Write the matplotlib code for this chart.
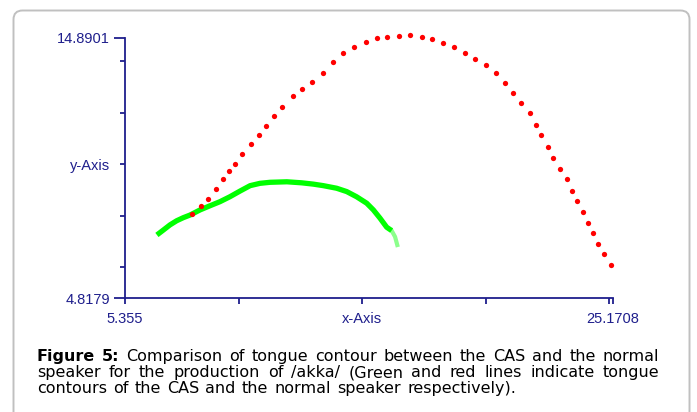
import matplotlib
matplotlib.use('Agg')
import matplotlib.pyplot as plt
from matplotlib.patches import FancyBboxPatch

plt.rcParams['font.family'] = ['Liberation Sans', 'DejaVu Sans']

# tongue contour of the normal speaker (red dots)
red_x = [8.08, 8.45, 8.75, 9.07, 9.34, 9.61, 9.84, 10.12, 10.49, 10.81,
         11.08, 11.42, 11.76, 12.18, 12.56, 12.97, 13.40, 13.83, 14.23, 14.67,
         15.14, 15.61, 16.02, 16.49, 16.95, 17.41, 17.82, 18.28, 18.73, 19.18,
         19.56, 20.00, 20.43, 20.79, 21.11, 21.45, 21.79, 22.06, 22.25, 22.53,
         22.75, 23.02, 23.32, 23.52, 23.72, 23.95, 24.16, 24.37, 24.58, 24.81,
         25.10]
red_y = [8.07, 8.39, 8.64, 9.03, 9.44, 9.74, 10.02, 10.38, 10.78, 11.13,
         11.48, 11.87, 12.21, 12.66, 12.91, 13.19, 13.55, 13.96, 14.31, 14.55,
         14.72, 14.88, 14.93, 14.97, 14.99, 14.93, 14.85, 14.71, 14.53, 14.31,
         14.09, 13.84, 13.52, 13.16, 12.77, 12.38, 11.97, 11.52, 11.12, 10.66,
         10.25, 9.83, 9.44, 8.97, 8.59, 8.14, 7.73, 7.35, 6.91, 6.52,
         6.08]

# tongue contour of the CAS (green line)
green_x = [6.67, 6.93, 7.20, 7.47, 7.74, 8.01, 8.42, 8.82, 9.23, 9.63,
           10.04, 10.45, 10.85, 11.26, 11.94, 12.54, 13.01, 13.42, 13.96, 14.37,
           14.77, 15.18, 15.45, 15.72, 15.99, 16.19]
green_y = [7.26, 7.45, 7.65, 7.81, 7.93, 8.03, 8.23, 8.39, 8.55, 8.74,
           8.96, 9.17, 9.26, 9.30, 9.32, 9.28, 9.23, 9.17, 9.07, 8.94,
           8.74, 8.49, 8.23, 7.91, 7.56, 7.43]
green_tail_x = [16.19, 16.33, 16.42]
green_tail_y = [7.43, 7.19, 6.87]

x_min, x_max = 5.355, 25.1708
y_min, y_max = 4.8179, 14.8901
x_ticks = [5.355, 10, 15, 20, 25, 25.1708]
x_labels = ['5.355', '', 'x-Axis', '', '', '25.1708']
y_ticks = [4.8179, 6, 8, 10, 12, 14, 14.8901]
y_labels = ['4.8179', '', '', 'y-Axis', '', '', '14.8901']

caption_1 = [('Figure', True), ('5:', True)] + [(w, False) for w in
             'Comparison of tongue contour between the CAS and the normal'.split()]
caption_2 = [(w, False) for w in
             'speaker for the production of /akka/ (Green and red lines indicate tongue'.split()]
caption_3 = [(w, False) for w in
             'contours of the CAS and the normal speaker respectively).'.split()]

navy = '#1f1f8c'
W, H = 697, 412

fig = plt.figure(figsize=(W / 100, H / 100), dpi=100)
ax = fig.add_axes([124.5 / W, 1 - 298 / H, (613 - 124.5) / W, (298 - 38) / H])

ax.plot(green_x, green_y, color='#00ff00', lw=3.8, solid_capstyle='butt', zorder=2)
ax.plot(green_tail_x, green_tail_y, color='#00ff00', lw=3.0, alpha=0.45, zorder=2)
ax.plot(red_x, red_y, ls='none', marker='o', ms=3.8, color='#ff0000', mec='none',
        clip_on=False, zorder=3)

ax.set_xlim(x_min, x_max)
ax.set_ylim(y_min, y_max)
for s in ['top', 'right']:
  ax.spines[s].set_visible(False)
for s in ['left', 'bottom']:
  ax.spines[s].set_color(navy)
  ax.spines[s].set_linewidth(1.3)

ax.set_xticks(x_ticks)
ax.set_xticklabels(x_labels, family='Liberation Sans')
ax.set_yticks(y_ticks)
ax.set_yticklabels(y_labels, family='Liberation Sans')
ax.tick_params(axis='both', colors=navy, width=1.3, labelsize=10.5)
ax.tick_params(axis='x', length=4.3, pad=5.5)
ax.tick_params(axis='y', length=3.6, pad=7.0)
# longer ticks at the two ends of the y axis
for i in [0, len(y_ticks) - 1]:
  ax.yaxis.get_major_ticks()[i].tick1line.set_markersize(8)

# rounded frame around the figure
frame = FancyBboxPatch((13.5, -40), 676, 441.5,
                       boxstyle='round,pad=0,rounding_size=9',
                       transform=None, fill=False, ec='#c0c0c0', lw=1.4)
fig.add_artist(frame)

# caption, justified like in the journal layout
renderer = fig.canvas.get_renderer()
fs = 11.5
x0 = 36.7


def justify(words, base, x1):
  texts = []
  for w, bold in words:
    t = fig.text(0, 1 - base / H, w, fontsize=fs, va='baseline', color='black',
                 family='DejaVu Sans', weight='bold' if bold else 'normal')
    texts.append(t)
  widths = [t.get_window_extent(renderer).width for t in texts]
  gap = (x1 - x0 - sum(widths)) / (len(texts) - 1)
  x = x0
  for t, w in zip(texts, widths):
    t.set_x(x / W)
    x += w + gap


justify(caption_1, 361.0, 659.0)
justify(caption_2, 377.0, 659.0)
justify(caption_3, 393.0, 516.0)

plt.savefig('out.png', dpi=100)
